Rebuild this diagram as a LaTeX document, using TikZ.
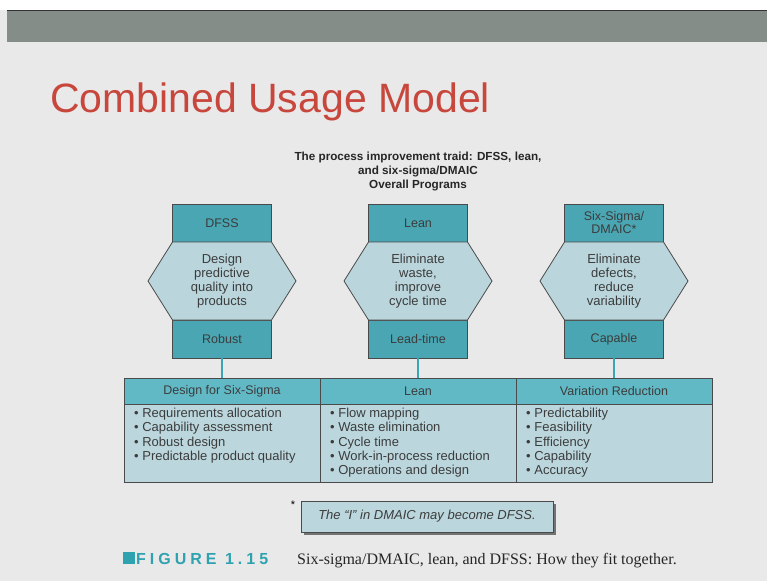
\documentclass[tikz,border=0pt]{standalone}
\usepackage{fontspec}
\setmainfont{Liberation Sans}
\newfontfamily\capserif{Liberation Serif}
\newfontfamily\figfont[LetterSpace=25]{Liberation Sans}
\usetikzlibrary{positioning,calc,shadows}

\definecolor{slidebg}{HTML}{E9E9E9}
\definecolor{barGrey}{HTML}{858D89}
\definecolor{titleRed}{HTML}{C8473D}
\definecolor{boxTeal}{HTML}{4AA6B3}
\definecolor{hexBlue}{HTML}{BAD6DC}
\definecolor{headTeal}{HTML}{62B9C6}
\definecolor{bodyBlue}{HTML}{BBD7DD}
\definecolor{lineGrey}{HTML}{4A4A4A}
\definecolor{textGrey}{HTML}{3C3C3C}
\definecolor{linkTeal}{HTML}{3AA6B5}
\definecolor{capTeal}{HTML}{2FA2B0}

\begin{document}
\begin{tikzpicture}[x=1pt,y=-1pt,
  prog/.style={draw=lineGrey, line width=1pt, fill=boxTeal, minimum width=99pt, minimum height=38pt, inner sep=0pt, outer sep=0pt, text=textGrey, font=\fontsize{12.5}{13}\selectfont, align=center},
  hexa/.style={draw=lineGrey, line width=0.8pt, fill=hexBlue},
  goal/.style={text=textGrey, font=\fontsize{13}{14}\selectfont, align=center},
  head/.style={draw=lineGrey, line width=1pt, fill=headTeal, minimum width=196pt, minimum height=26pt, inner sep=0pt, outer sep=0pt, text=textGrey, font=\fontsize{12.5}{13}\selectfont},
  body/.style={draw=lineGrey, line width=1pt, fill=bodyBlue, minimum width=196pt, minimum height=78pt, inner sep=0pt, outer sep=0pt},
  items/.style={anchor=north west, inner sep=0pt, text=textGrey, font=\fontsize{13}{14.2}\selectfont, align=left},
  link/.style={draw=linkTeal, line width=2pt}
]
\useasboundingbox (0,0) rectangle (767,581);

% Slide background
\fill[slidebg] (0,0) rectangle (767,581);
\fill[white] (0,0) rectangle (767,10);
\fill[barGrey] (7,10) rectangle (767,42);
\draw[black!80, line width=1.2pt] (7,10.6) -- (767,10.6);

% Title and heading
\node[anchor=base west, inner sep=0pt, text=titleRed, font=\fontsize{41}{41}\selectfont] (title) at (50,112) {Combined Usage Model};
\node[font=\bfseries\fontsize{11.7}{14}\selectfont, align=center, text=black!85] (sub) at (418,171)
  {The process improvement traid: DFSS, lean,\\and six-sigma/DMAIC\\Overall Programs};

% Program boxes
\node[prog] (dfss) at (222,223) {DFSS};
\node[prog] (lean) at (418,223) {Lean};
\node[prog] (sixsig) at (614,223) {Six-Sigma/\\DMAIC*};
\node[prog, below=78pt of dfss] (robust) {Robust};
\node[prog, below=78pt of lean] (leadtime) {Lead-time};
\node[prog, below=78pt of sixsig] (capable) {Capable};

% Hexagons
\draw[hexa] (dfss.south west) -- (dfss.south east) -- ($(dfss.south east)!.5!(robust.north east)+(24.5,0)$)
  -- (robust.north east) -- (robust.north west) -- ($(dfss.south west)!.5!(robust.north west)+(-24.5,0)$) -- cycle;
\draw[hexa] (lean.south west) -- (lean.south east) -- ($(lean.south east)!.5!(leadtime.north east)+(24.5,0)$)
  -- (leadtime.north east) -- (leadtime.north west) -- ($(lean.south west)!.5!(leadtime.north west)+(-24.5,0)$) -- cycle;
\draw[hexa] (sixsig.south west) -- (sixsig.south east) -- ($(sixsig.south east)!.5!(capable.north east)+(24.5,0)$)
  -- (capable.north east) -- (capable.north west) -- ($(sixsig.south west)!.5!(capable.north west)+(-24.5,0)$) -- cycle;
\node[goal] (dfssgoal) at ($(dfss.south)!.5!(robust.north)$) {Design\\predictive\\quality into\\products};
\node[goal] (leangoal) at ($(lean.south)!.5!(leadtime.north)$) {Eliminate\\waste,\\improve\\cycle time};
\node[goal] (sixgoal) at ($(sixsig.south)!.5!(capable.north)$) {Eliminate\\defects,\\reduce\\variability};

% Table
\node[head] (hdfss) at (222,391) {Design for Six-Sigma};
\node[head] (hlean) at (418,391) {Lean};
\node[head] (hvar) at (614,391) {Variation Reduction};
\node[body, below=0pt of hdfss] (bdfss) {};
\node[body, below=0pt of hlean] (blean) {};
\node[body, below=0pt of hvar] (bvar) {};
\node[items] (ldfss) at ($(bdfss.north west)+(10,4)$)
  {• Requirements allocation\\• Capability assessment\\• Robust design\\• Predictable product quality};
\node[items] (llean) at ($(blean.north west)+(10,4)$)
  {• Flow mapping\\• Waste elimination\\• Cycle time\\• Work-in-process reduction\\• Operations and design};
\node[items] (lvar) at ($(bvar.north west)+(10,4)$)
  {• Predictability\\• Feasibility\\• Efficiency\\• Capability\\• Accuracy};

% Links
\draw[link] (robust) -- (hdfss);
\draw[link] (leadtime) -- (hlean);
\draw[link] (capable) -- (hvar);

% Footnote
\node[draw=lineGrey, line width=1pt, fill=bodyBlue, minimum width=252pt, minimum height=31pt,
  drop shadow={shadow xshift=3pt, shadow yshift=-3pt, fill=black!55, opacity=1},
  text=textGrey, font=\itshape\fontsize{13}{14}\selectfont] (fnote) at (427,516.5) {The “I” in DMAIC may become DFSS.};
\node[inner sep=0pt, font=\fontsize{11}{11}\selectfont] (star) at (293,505) {*};

% Caption
\node[anchor=base west, inner sep=0pt, text=capTeal, font=\figfont\bfseries\fontsize{16}{16}\selectfont] (figlbl) at (123,564)
  {\rule{12pt}{12pt}\hspace{1pt}FIGURE 1.15};
\node[anchor=base west, inner sep=0pt, text=black!85, font=\capserif\fontsize{16}{16}\selectfont] (figcap) at (297,564)
  {Six-sigma/DMAIC, lean, and DFSS: How they fit together.};
\end{tikzpicture}
\end{document}
